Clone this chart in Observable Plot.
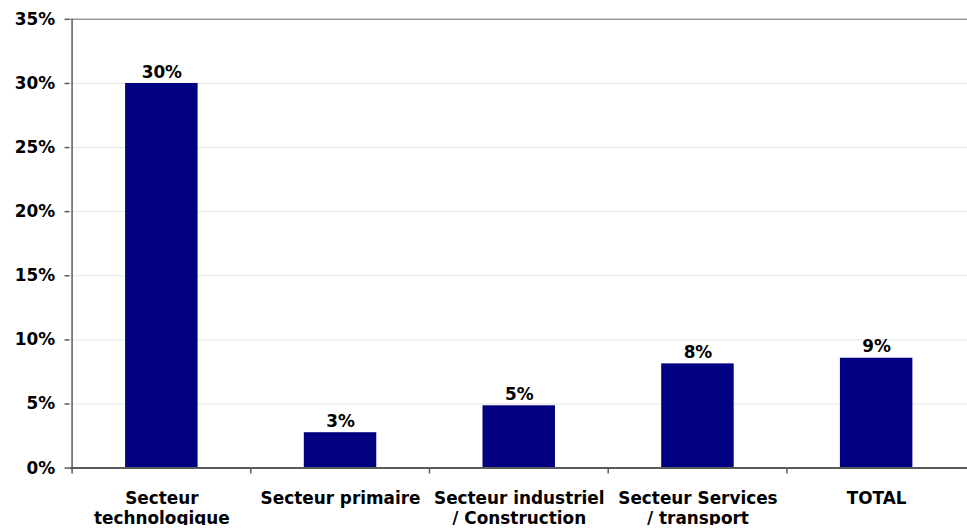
<!DOCTYPE html>
<html>
<head>
<meta charset="utf-8">
<script src="https://cdn.jsdelivr.net/npm/d3@7"></script>
<script src="https://cdn.jsdelivr.net/npm/@observablehq/plot@0.6"></script>
<style>
  html, body { margin: 0; padding: 0; background: #fff; overflow: hidden; }
  #chart svg { display: block; }
</style>
</head>
<body>
<div id="chart"></div>
<script>
// Data
const categories = [
  "Secteur\ntechnologique",
  "Secteur primaire",
  "Secteur industriel\n/ Construction",
  "Secteur Services\n/ transport",
  "TOTAL"
];
const values = [0.300, 0.0276, 0.0486, 0.0813, 0.0857];
const valueLabels = ["30%", "3%", "5%", "8%", "9%"];
const yTicks = [0, 0.05, 0.10, 0.15, 0.20, 0.25, 0.30, 0.35];
const yTickLabels = ["0%", "5%", "10%", "15%", "20%", "25%", "30%", "35%"];

const data = categories.map((c, i) => ({cat: c, value: values[i], label: valueLabels[i]}));

// Layout
const W = 974, H = 529, mL = 70, mR = 0, mT = 19, mB = 58;
const step = (W - mL - mR) / categories.length;
const plotH = H - mT - mB;
const font = "'DejaVu Sans', Verdana, sans-serif";
const fs = 17;

const chart = Plot.plot({
  width: W,
  height: H,
  marginLeft: mL,
  marginRight: mR,
  marginTop: mT,
  marginBottom: mB,
  style: {fontFamily: font, fontWeight: "bold", fontSize: fs + "px", color: "#000", background: "#fff", overflow: "visible"},
  x: {domain: categories, paddingInner: 0.596, paddingOuter: 0.298, axis: null},
  y: {domain: [0, 0.35], axis: null},
  marks: [
    // gridlines
    Plot.ruleY(yTicks.slice(1, -1), {stroke: "#e3e3e3", strokeWidth: 1}),
    // top border
    Plot.ruleY([0.35], {stroke: "#9a9a9a", strokeWidth: 1.5}),
    // bars
    Plot.barY(data, {x: "cat", y: "value", fill: "#000080"}),
    // value labels
    Plot.text(data, {x: "cat", y: "value", text: "label", dy: -6, lineAnchor: "bottom", fill: "#000", fontWeight: "bold", fontSize: fs}),
    // baseline
    Plot.ruleY([0], {stroke: "#5a5a5a", strokeWidth: 2}),
    // category boundary ticks
    Plot.ruleX(categories.slice(1), {x: d => d, dx: -step / 2, insetTop: plotH, insetBottom: -6, stroke: "#5a5a5a", strokeWidth: 1.5}),
    // y axis line (extends below baseline)
    Plot.ruleX(categories.slice(0, 1), {x: d => d, dx: -step / 2, insetBottom: -6, stroke: "#5a5a5a", strokeWidth: 1.5}),
    // y axis ticks & labels
    Plot.axisY(yTicks, {
      anchor: "left",
      tickSize: 5,
      tickPadding: 10,
      tickFormat: (d, i) => yTickLabels[i],
      stroke: "#5a5a5a",
      strokeWidth: 1.5,
      fill: "#000",
      fontWeight: "bold",
      fontSize: fs,
      label: null
    }),
    // x axis labels
    Plot.axisX({
      anchor: "bottom",
      tickSize: 0,
      tickPadding: 21.5,
      lineHeight: 1.2,
      fill: "#000",
      fontWeight: "bold",
      fontSize: fs,
      label: null
    })
  ]
});

document.getElementById("chart").appendChild(chart);
</script>
</body>
</html>
